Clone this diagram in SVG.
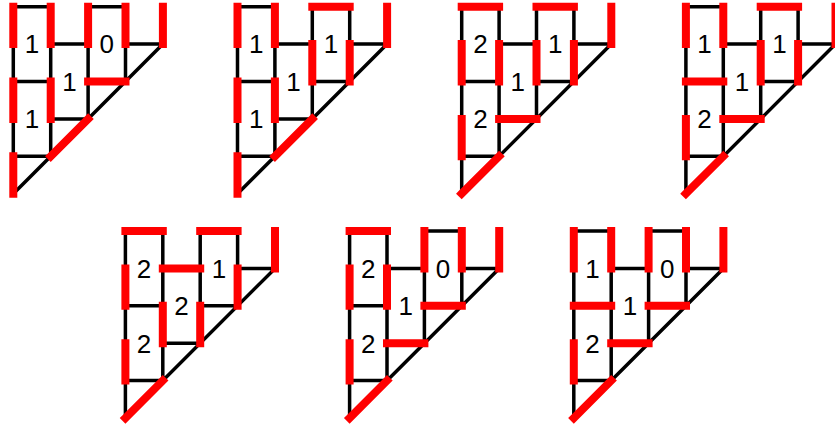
<svg xmlns="http://www.w3.org/2000/svg" xmlns:xlink="http://www.w3.org/1999/xlink" width="835" height="427" viewBox="0 0 835 427">
<style>
.grid{fill:none;stroke:#000;stroke-width:3.5;stroke-linecap:butt}
.red{fill:none;stroke:#ff0000;stroke-width:8;stroke-linecap:square}
.lbl{font-family:"Liberation Sans",Arial,sans-serif;font-size:26px;fill:#000;text-anchor:middle}
</style>
<defs>
<path id="grid" class="grid" d="M0 0V187M37.4 0V149.6M74.8 0V112.2M112.2 0V74.8M149.6 0V37.4M0 0H37.4M0 74.8H37.4M0 149.6H37.4M37.4 37.4H74.8M37.4 112.2H74.8M74.8 0H112.2M74.8 74.8H112.2M112.2 37.4H149.6M0 187L149.6 37.4"/>
</defs>
<g id="diagram1" transform="translate(13.3,6.7)">
<use xlink:href="#grid" href="#grid"/>
<path class="red" d="M0 0v37.4M0 74.8v37.4M0 149.6v37.4M37.4 0v37.4M37.4 74.8v37.4M74.8 0v37.4M112.2 0v37.4M149.6 0v37.4M74.8 74.8h37.4M37.4 149.6l37.4 -37.4"/>
<text class="lbl" x="18.7" y="46.7">1</text><text class="lbl" x="93.5" y="46.7">0</text><text class="lbl" x="56.1" y="84.1">1</text><text class="lbl" x="18.7" y="121.5">1</text>
</g>
<g id="diagram2" transform="translate(237.5,6.7)">
<use xlink:href="#grid" href="#grid"/>
<path class="red" d="M0 0v37.4M0 74.8v37.4M0 149.6v37.4M37.4 0v37.4M37.4 74.8v37.4M74.8 0h37.4M74.8 37.4v37.4M112.2 37.4v37.4M149.6 0v37.4M37.4 149.6l37.4 -37.4"/>
<text class="lbl" x="18.7" y="46.7">1</text><text class="lbl" x="93.5" y="46.7">1</text><text class="lbl" x="56.1" y="84.1">1</text><text class="lbl" x="18.7" y="121.5">1</text>
</g>
<g id="diagram3" transform="translate(461.7,6.7)">
<use xlink:href="#grid" href="#grid"/>
<path class="red" d="M0 0h37.4M74.8 0h37.4M0 37.4v37.4M37.4 37.4v37.4M74.8 37.4v37.4M112.2 37.4v37.4M149.6 0v37.4M0 112.2v37.4M37.4 112.2h37.4M0 187l37.4 -37.4"/>
<text class="lbl" x="18.7" y="46.7">2</text><text class="lbl" x="93.5" y="46.7">1</text><text class="lbl" x="56.1" y="84.1">1</text><text class="lbl" x="18.7" y="121.5">2</text>
</g>
<g id="diagram4" transform="translate(685.9,6.7)">
<use xlink:href="#grid" href="#grid"/>
<path class="red" d="M0 0v37.4M37.4 0v37.4M74.8 0h37.4M74.8 37.4v37.4M112.2 37.4v37.4M149.6 0v37.4M0 74.8h37.4M0 112.2v37.4M37.4 112.2h37.4M0 187l37.4 -37.4"/>
<text class="lbl" x="18.7" y="46.7">1</text><text class="lbl" x="93.5" y="46.7">1</text><text class="lbl" x="56.1" y="84.1">1</text><text class="lbl" x="18.7" y="121.5">2</text>
</g>
<g id="diagram5" transform="translate(125.4,231)">
<use xlink:href="#grid" href="#grid"/>
<path class="red" d="M0 0h37.4M74.8 0h37.4M0 37.4v37.4M37.4 37.4h37.4M112.2 37.4v37.4M149.6 0v37.4M37.4 74.8v37.4M74.8 74.8v37.4M0 112.2v37.4M0 187l37.4 -37.4"/>
<text class="lbl" x="18.7" y="46.7">2</text><text class="lbl" x="93.5" y="46.7">1</text><text class="lbl" x="56.1" y="84.1">2</text><text class="lbl" x="18.7" y="121.5">2</text>
</g>
<g id="diagram6" transform="translate(349.6,231)">
<use xlink:href="#grid" href="#grid"/>
<path class="red" d="M0 0h37.4M0 37.4v37.4M37.4 37.4v37.4M74.8 0v37.4M112.2 0v37.4M149.6 0v37.4M74.8 74.8h37.4M0 112.2v37.4M37.4 112.2h37.4M0 187l37.4 -37.4"/>
<text class="lbl" x="18.7" y="46.7">2</text><text class="lbl" x="93.5" y="46.7">0</text><text class="lbl" x="56.1" y="84.1">1</text><text class="lbl" x="18.7" y="121.5">2</text>
</g>
<g id="diagram7" transform="translate(573.8,231)">
<use xlink:href="#grid" href="#grid"/>
<path class="red" d="M0 0v37.4M37.4 0v37.4M74.8 0v37.4M112.2 0v37.4M149.6 0v37.4M0 74.8h37.4M74.8 74.8h37.4M0 112.2v37.4M37.4 112.2h37.4M0 187l37.4 -37.4"/>
<text class="lbl" x="18.7" y="46.7">1</text><text class="lbl" x="93.5" y="46.7">0</text><text class="lbl" x="56.1" y="84.1">1</text><text class="lbl" x="18.7" y="121.5">2</text>
</g>
<g id="connectors"/>
</svg>
